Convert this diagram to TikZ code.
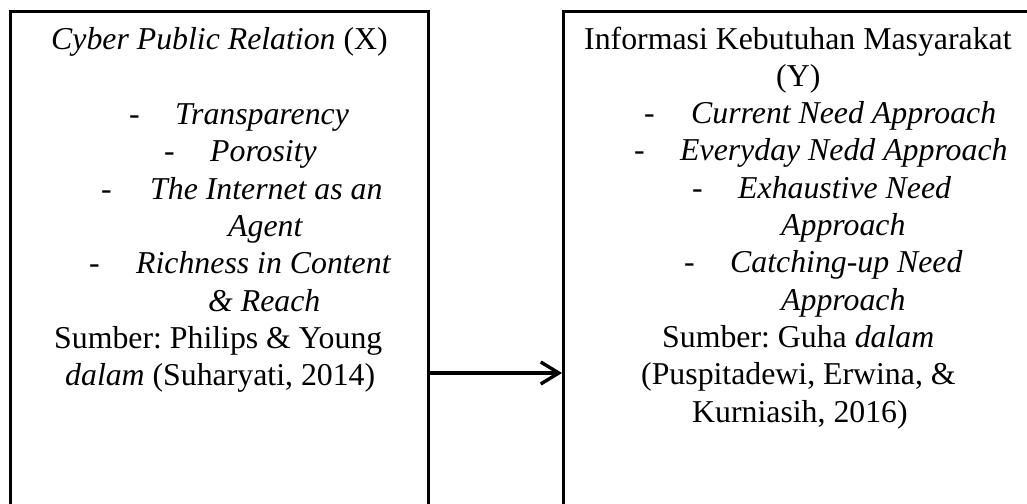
\documentclass[tikz,border=0pt]{standalone}
\usepackage{fontspec}
\setmainfont{Liberation Serif}
\usetikzlibrary{arrows.meta}
\frenchspacing
\begin{document}
\begin{tikzpicture}[x=1pt,y=-1pt,
  box/.style={draw=black, line width=2.6pt, anchor=north west, inner sep=0pt},
  txt/.style={anchor=base west, inner sep=0pt, font=\fontsize{31.8}{37.3}\selectfont},
  arr/.style={line width=3.4pt, -{Straight Barb[length=18pt,width=22pt,line width=3.4pt]}}]
\useasboundingbox (0,0) rectangle (1027,503);
\clip (0,0) rectangle (1027,503);
\fill[white] (0,0) rectangle (1027,503);
% boxes
\node[box, minimum width=418pt, minimum height=540pt] (L) at (9,10) {};
\node[box, minimum width=500pt, minimum height=540pt] (R) at (562,10) {};
% arrow
\coordinate (ay) at (0,373);
\draw[arr] (ay -| L.east) -- (ay -| R.west);
% left text
\node[txt] (l1) at (51,50) {\textit{Cyber Public Relation} (X)};
\node[txt] (l2d) at (129,124.6) {-};
\node[txt] (l2) at (175,124.6) {\textit{Transparency}};
\node[txt] (l3d) at (164,161.9) {-};
\node[txt] (l3) at (210,161.9) {\textit{Porosity}};
\node[txt] (l4d) at (101,199.2) {-};
\node[txt] (l4) at (150,199.2) {\textit{The Internet as an}};
\node[txt] (l5) at (228,236.5) {\textit{Agent}};
\node[txt] (l6d) at (89,273.8) {-};
\node[txt] (l6) at (136,273.8) {\textit{Richness in Content}};
\node[txt] (l7) at (208,311.1) {\textit{\& Reach}};
\node[txt] (l8) at (54,348.4) {Sumber: Philips \& Young};
\node[txt] (l9) at (65,385.7) {\textit{dalam} (Suharyati, 2014)};
% right text
\node[txt] (r1) at (584,49) {Informasi Kebutuhan Masyarakat};
\node[txt] (r2) at (776,86.3) {(Y)};
\node[txt] (r3d) at (644,123.6) {-};
\node[txt] (r3) at (691,123.6) {\textit{Current Need Approach}};
\node[txt] (r4d) at (634,160.9) {-};
\node[txt] (r4) at (680,160.9) {\textit{Everyday Nedd Approach}};
\node[txt] (r5d) at (692,198.2) {-};
\node[txt] (r5) at (738,198.2) {\textit{Exhaustive Need}};
\node[txt] (r6) at (781,235.5) {\textit{Approach}};
\node[txt] (r7d) at (684,272.8) {-};
\node[txt] (r7) at (730,272.8) {\textit{Catching-up Need}};
\node[txt] (r8) at (781,310.1) {\textit{Approach}};
\node[txt] (r9) at (662,347.4) {Sumber: Guha \textit{dalam}};
\node[txt] (r10) at (641,384.7) {(Puspitadewi, Erwina, \&};
\node[txt] (r11) at (692,422) {Kurniasih, 2016)};
\end{tikzpicture}
\end{document}
